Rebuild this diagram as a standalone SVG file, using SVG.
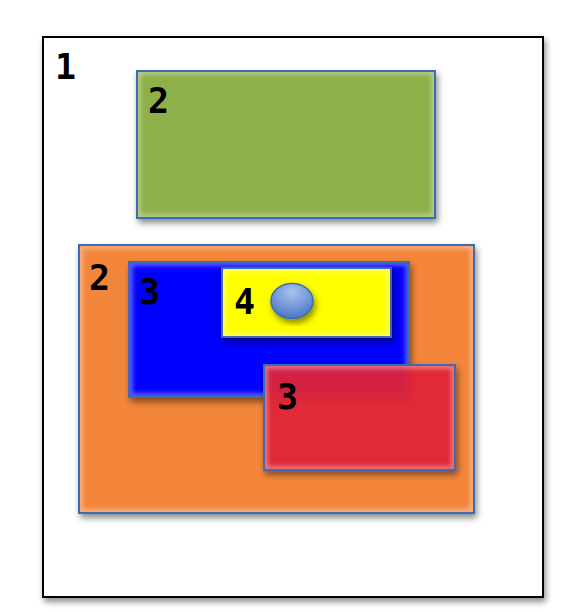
<svg xmlns="http://www.w3.org/2000/svg" width="570" height="612" viewBox="0 0 570 612">
<defs>
<filter id="sh" x="-10%" y="-10%" width="130%" height="130%">
<feDropShadow dx="2" dy="4" stdDeviation="3" flood-color="#000" flood-opacity="0.45"/>
</filter>
<filter id="glow" x="-10%" y="-10%" width="120%" height="120%">
<feGaussianBlur stdDeviation="2"/>
</filter>
<radialGradient id="egrad" cx="50%" cy="25%" r="75%">
<stop offset="0" stop-color="#a9c4ee"/>
<stop offset="1" stop-color="#4a76c4"/>
</radialGradient>
<clipPath id="cg"><rect x="138" y="72" width="296" height="145"/></clipPath>
<clipPath id="co"><rect x="80" y="246" width="393" height="266"/></clipPath>
<clipPath id="cb"><rect x="130" y="263" width="278" height="133"/></clipPath>
<clipPath id="cy"><rect x="223" y="269" width="167" height="67"/></clipPath>
<clipPath id="cr"><rect x="265" y="366" width="189" height="103"/></clipPath>
</defs>
<style>
.lbl{font-family:"DejaVu Sans Mono","Liberation Mono",monospace;font-size:35px;font-weight:bold;fill:#000}
.box{stroke:#3d6cb4;stroke-width:2}
.hl{fill:none;stroke:#fff;stroke-opacity:0.35;stroke-width:6}
</style>
<rect width="570" height="612" fill="#fff"/>
<g id="node1">
<rect x="43" y="37" width="500" height="560" fill="#fff" stroke="#000" stroke-width="2" filter="url(#sh)"/>
<text class="lbl" x="55" y="79">1</text>
</g>
<g id="node2a">
<rect class="box" x="137" y="71" width="298" height="147" fill="#8db04a" filter="url(#sh)"/>
<rect class="hl" x="138" y="72" width="296" height="145" clip-path="url(#cg)" filter="url(#glow)"/>
<text class="lbl" x="148" y="113">2</text>
</g>
<g id="node2b">
<rect class="box" x="79" y="245" width="395" height="268" fill="#f3863a" filter="url(#sh)"/>
<rect class="hl" x="80" y="246" width="393" height="266" clip-path="url(#co)" filter="url(#glow)"/>
<text class="lbl" x="89" y="290">2</text>
</g>
<g id="node3a">
<rect class="box" x="129" y="262" width="280" height="135" fill="#0000ff" filter="url(#sh)"/>
<rect class="hl" x="130" y="263" width="278" height="133" clip-path="url(#cb)" filter="url(#glow)"/>
<text class="lbl" x="139" y="304">3</text>
</g>
<g id="node4">
<rect class="box" x="222" y="268" width="169" height="69" fill="#ffff00" filter="url(#sh)"/>
<rect class="hl" x="223" y="269" width="167" height="67" clip-path="url(#cy)" filter="url(#glow)"/>
<text class="lbl" x="234" y="314">4</text>
<ellipse cx="292" cy="301" rx="21" ry="17.5" fill="url(#egrad)" stroke="#3d6cb4" stroke-width="1.5" filter="url(#sh)"/>
</g>
<g id="node3b">
<rect class="box" x="264" y="365" width="191" height="105" fill="rgb(228,35,55)" fill-opacity="0.9" filter="url(#sh)"/>
<rect class="hl" x="265" y="366" width="189" height="103" clip-path="url(#cr)" filter="url(#glow)"/>
<text class="lbl" x="277" y="409">3</text>
</g>
<g id="connectors"/>
</svg>
